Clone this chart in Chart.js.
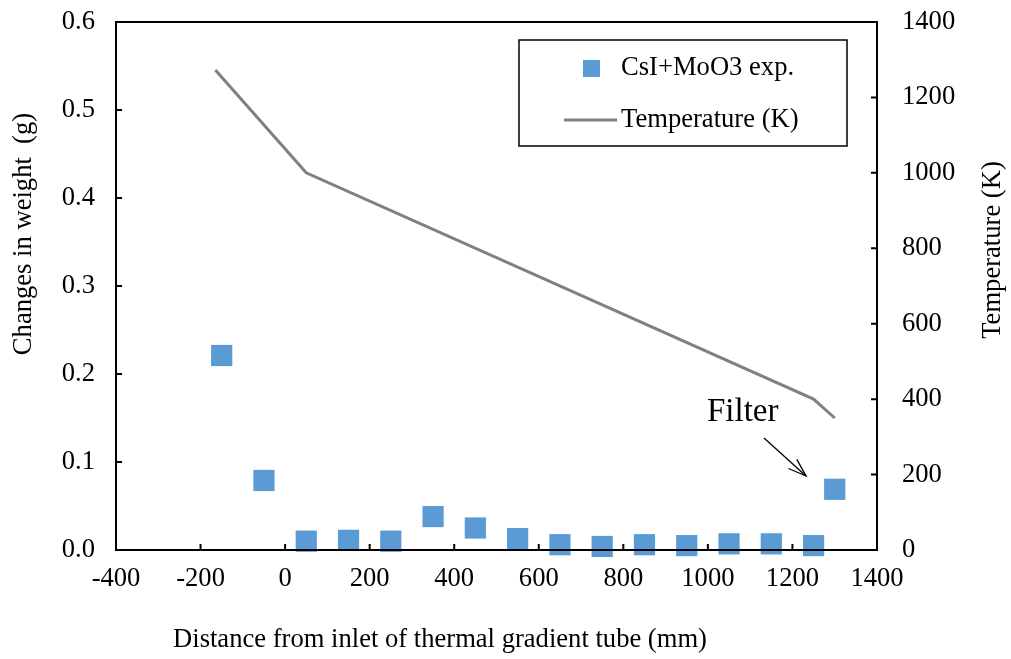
<!DOCTYPE html>
<html lang="en">
<head>
<meta charset="UTF-8">
<title>Thermal gradient tube deposition</title>
<style>
    body { margin: 0; background: #fff; }
    #wrap { width: 1011px; height: 659px; }
</style>
</head>
<body>
<div id="wrap"><canvas id="chart"></canvas></div>
<script src="https://cdn.jsdelivr.net/npm/chart.js@4.4.1/dist/chart.umd.min.js"></script>
<script>
    // Weight change of each tube section (g)
    const positions = [-150, -50, 50, 150, 250, 350, 450, 550, 650, 750, 850, 950, 1050, 1150, 1250, 1300];
    const weights   = [0.221, 0.079, 0.010, 0.011, 0.010, 0.038, 0.025, 0.013, 0.006, 0.004, 0.006, 0.005, 0.007, 0.007, 0.005, 0.069];

    // Temperature profile along the tube (K)
    const tempPositions = [-165, 50, 1250, 1300];
    const temperatures  = [1273, 1000, 400, 350];

    const FONT = "'Liberation Serif', 'Times New Roman', serif";
    const FS = 26.6;
    const BLUE = '#5b9bd5';
    const GREY = '#808080';

    // ticks pointing into the plot, frame, legend box, axis titles and Filter note
    const decorations = {
        id: 'decorations',
        afterDraw(chart) {
            const ctx = chart.ctx;
            const a = chart.chartArea;
            const sx = chart.scales.x, sy = chart.scales.y, sy2 = chart.scales.y2;
            ctx.save();
            ctx.strokeStyle = '#000';
            ctx.lineWidth = 2;
            ctx.strokeRect(a.left, a.top, a.right - a.left, a.bottom - a.top);
            ctx.beginPath();
            sx.ticks.forEach((t, i) => {
                const px = sx.getPixelForTick(i);
                ctx.moveTo(px, a.bottom); ctx.lineTo(px, a.bottom - 6);
            });
            sy.ticks.forEach((t, i) => {
                const py = sy.getPixelForTick(i);
                ctx.moveTo(a.left, py); ctx.lineTo(a.left + 6, py);
            });
            sy2.ticks.forEach((t, i) => {
                const py = sy2.getPixelForTick(i);
                ctx.moveTo(a.right, py); ctx.lineTo(a.right - 6, py);
            });
            ctx.stroke();

            // legend
            ctx.lineWidth = 1.5;
            ctx.strokeRect(519, 40, 328, 106);
            const ds = chart.data.datasets;
            ctx.fillStyle = ds[0].backgroundColor;
            ctx.fillRect(583, 60, 17, 17);
            ctx.strokeStyle = ds[1].borderColor;
            ctx.lineWidth = 3;
            ctx.beginPath(); ctx.moveTo(564, 120); ctx.lineTo(617, 120); ctx.stroke();
            ctx.fillStyle = '#000';
            ctx.font = FS + 'px ' + FONT;
            ctx.textBaseline = 'middle';
            ctx.textAlign = 'left';
            ctx.fillText(ds[0].label, 621, 68);
            ctx.fillText(ds[1].label, 621, 120);

            // axis titles
            ctx.textAlign = 'center';
            ctx.fillText('Distance from inlet of thermal gradient tube (mm)', 440, 640);
            ctx.save();
            ctx.translate(24, 234);
            ctx.rotate(-Math.PI / 2);
            ctx.fillText('Changes in weight  (g)', 0, 0);
            ctx.restore();
            ctx.save();
            ctx.translate(993, 250);
            ctx.rotate(-Math.PI / 2);
            ctx.fillText('Temperature (K)', 0, 0);
            ctx.restore();

            // Filter note with arrow
            ctx.font = '33px ' + FONT;
            ctx.textAlign = 'left';
            ctx.textBaseline = 'alphabetic';
            ctx.fillText('Filter', 707, 421);
            const x0 = 764, y0 = 438, x1 = 806, y1 = 476;
            ctx.strokeStyle = '#000';
            ctx.lineWidth = 1.3;
            ctx.beginPath(); ctx.moveTo(x0, y0); ctx.lineTo(x1, y1); ctx.stroke();
            const ang = Math.atan2(y1 - y0, x1 - x0);
            ctx.beginPath();
            ctx.moveTo(x1 - 19 * Math.cos(ang - 0.33), y1 - 19 * Math.sin(ang - 0.33));
            ctx.lineTo(x1, y1);
            ctx.lineTo(x1 - 19 * Math.cos(ang + 0.33), y1 - 19 * Math.sin(ang + 0.33));
            ctx.stroke();
            ctx.restore();
        }
    };

    const tickFont = { family: FONT, size: FS };

    // fixed scale boxes so the plot area lands where it should
    function fixBox(size, horizontal) {
        return s => {
            if (horizontal) s.height = size; else s.width = size;
            s.paddingTop = 0; s.paddingBottom = 0;
            s.paddingLeft = 0; s.paddingRight = 0;
        };
    }

    new Chart(document.getElementById('chart'), {
        type: 'scatter',
        data: {
            datasets: [
                {
                    label: 'CsI+MoO3 exp.',
                    data: positions.map((x, i) => ({ x: x, y: weights[i] })),
                    yAxisID: 'y',
                    pointStyle: 'rect',
                    pointRadius: 15,
                    backgroundColor: BLUE,
                    borderWidth: 0,
                    clip: false,
                    order: 1
                },
                {
                    type: 'line',
                    label: 'Temperature (K)',
                    data: tempPositions.map((x, i) => ({ x: x, y: temperatures[i] })),
                    yAxisID: 'y2',
                    borderColor: GREY,
                    borderWidth: 3,
                    pointRadius: 0,
                    fill: false,
                    order: 2
                }
            ]
        },
        options: {
            responsive: true,
            maintainAspectRatio: false,
            animation: false,
            layout: { padding: { top: 22, left: 0, right: 0, bottom: 0 } },
            plugins: { legend: { display: false }, tooltip: { enabled: false } },
            scales: {
                x: {
                    type: 'linear',
                    min: -400, max: 1400,
                    grid: { display: false, drawTicks: false },
                    border: { display: false },
                    ticks: { stepSize: 200, padding: 13, color: '#000', font: tickFont, callback: v => String(v) },
                    afterFit: fixBox(109, true)
                },
                y: {
                    position: 'left',
                    min: 0, max: 0.6,
                    grid: { display: false, drawTicks: false },
                    border: { display: false },
                    ticks: { stepSize: 0.1, padding: 21, color: '#000', font: tickFont, callback: v => v.toFixed(1) },
                    afterFit: fixBox(116, false)
                },
                y2: {
                    position: 'right',
                    min: 0, max: 1400,
                    grid: { display: false, drawTicks: false },
                    border: { display: false },
                    ticks: { stepSize: 200, padding: 25, color: '#000', font: tickFont, callback: v => String(v) },
                    afterFit: fixBox(134, false)
                }
            }
        },
        plugins: [decorations]
    });
</script>
</body>
</html>
